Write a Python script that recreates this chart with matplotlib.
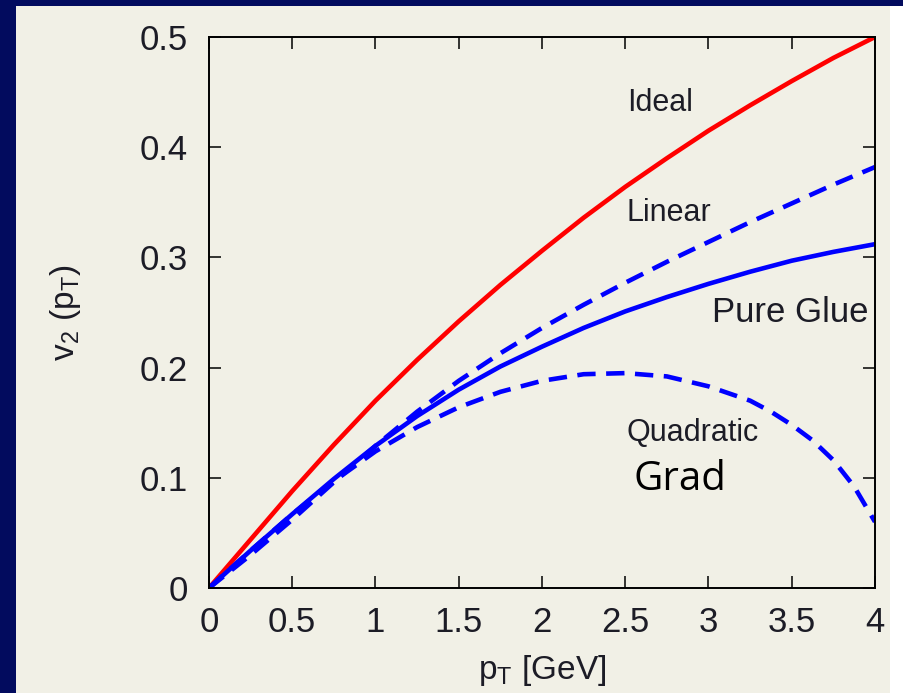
import numpy as np
import matplotlib.pyplot as plt
from matplotlib.patches import Rectangle

plt.rcParams['font.family'] = ['Liberation Sans', 'DejaVu Sans']
plt.rcParams['mathtext.default'] = 'regular'

#-------------------------------------------------------------------------------
# v2(pT) curves for different viscous correction ansatz

pt = [0, 0.25, 0.5, 0.75, 1, 1.25, 1.5, 1.75, 2, 2.25, 2.5, 2.75, 3, 3.25, 3.5, 3.75, 4]

v2_ideal = [0, 0.044, 0.088, 0.130, 0.170, 0.207, 0.242, 0.275, 0.306, 0.336, 0.364,
            0.390, 0.415, 0.438, 0.460, 0.481, 0.500]
v2_linear = [0, 0.030, 0.062, 0.096, 0.129, 0.160, 0.188, 0.213, 0.236, 0.257, 0.277,
             0.296, 0.314, 0.332, 0.349, 0.366, 0.382]
v2_glue = [0, 0.034, 0.067, 0.099, 0.129, 0.156, 0.180, 0.201, 0.219, 0.236, 0.251,
           0.264, 0.276, 0.287, 0.297, 0.305, 0.312]

pt_quad = [0, 0.25, 0.5, 0.75, 1, 1.25, 1.5, 1.75, 2, 2.25, 2.5, 2.75, 3, 3.25, 3.375,
           3.5, 3.625, 3.75, 3.875, 4]
v2_quad = [0, 0.034, 0.067, 0.097, 0.124, 0.146, 0.164, 0.178, 0.188, 0.194, 0.195,
           0.192, 0.183, 0.170, 0.160, 0.148, 0.134, 0.116, 0.092, 0.060]

xticks = [0, 0.5, 1, 1.5, 2, 2.5, 3, 3.5, 4]
xticklabels = ['0', '0.5', '1', '1.5', '2', '2.5', '3', '3.5', '4']
yticks = [0, 0.1, 0.2, 0.3, 0.4, 0.5]
yticklabels = ['0', '0.1', '0.2', '0.3', '0.4', '0.5']

navy = '#020b5e'
paper = '#f1f0e6'
ink = '#1c1c26'

#-------------------------------------------------------------------------------
# Slide background

fig = plt.figure(figsize=(9.04, 6.93), dpi=100, facecolor='white')
fig.patches.append(Rectangle((16/904, 0), 874/904, 687/693, transform=fig.transFigure,
                             facecolor=paper, edgecolor='none', zorder=-5))
fig.patches.append(Rectangle((0, 687/693), 1, 6/693, transform=fig.transFigure,
                             facecolor=navy, edgecolor='none', zorder=-5))
fig.patches.append(Rectangle((0, 0), 16/904, 1, transform=fig.transFigure,
                             facecolor=navy, edgecolor='none', zorder=-5))

ax = fig.add_axes([209/904, 105/693, 666/904, 551/693])
ax.set_facecolor(paper)

ax.plot(pt, v2_ideal, color='#ff0000', lw=3.3, solid_joinstyle='round')
ax.plot(pt, v2_linear, color='#0000ff', lw=3.3, dashes=(4, 2.3))
ax.plot(pt, v2_glue, color='#0000ff', lw=3.3, solid_joinstyle='round')
ax.plot(pt_quad, v2_quad, color='#0000ff', lw=3.3, dashes=(4, 2.3))

ax.set_xlim(0, 4)
ax.set_ylim(0, 0.5)
ax.set_xticks(xticks)
ax.set_xticklabels(xticklabels)
ax.set_yticks(yticks)
ax.set_yticklabels(yticklabels)
ax.tick_params(direction='in', top=True, right=True, length=8.5, width=1.1,
               labelsize=25, labelcolor=ink)
ax.tick_params(axis='x', pad=13)
ax.tick_params(axis='y', pad=15)
for s in ax.spines.values():
    s.set_linewidth(1.4)

ax.set_xlabel('p$_T$ [GeV]', fontsize=24, color=ink, labelpad=10)
ax.set_ylabel('v$_2$ (p$_T$)', fontsize=24, color=ink, labelpad=41)

# curve labels
ax.text(2.51, 0.44, 'Ideal', fontsize=22, color=ink, va='center')
ax.text(2.51, 0.340, 'Linear', fontsize=22, color=ink, va='center')
ax.text(3.02, 0.250, 'Pure Glue', fontsize=25, color=ink, va='center')
ax.text(2.51, 0.141, 'Quadratic', fontsize=22, color=ink, va='center')
ax.text(2.55, 0.098, 'Grad', fontsize=29, color='black', va='center',
        family=['Open Sans', 'DejaVu Sans'])

fig.savefig('out.png', dpi=100, facecolor=fig.get_facecolor())
